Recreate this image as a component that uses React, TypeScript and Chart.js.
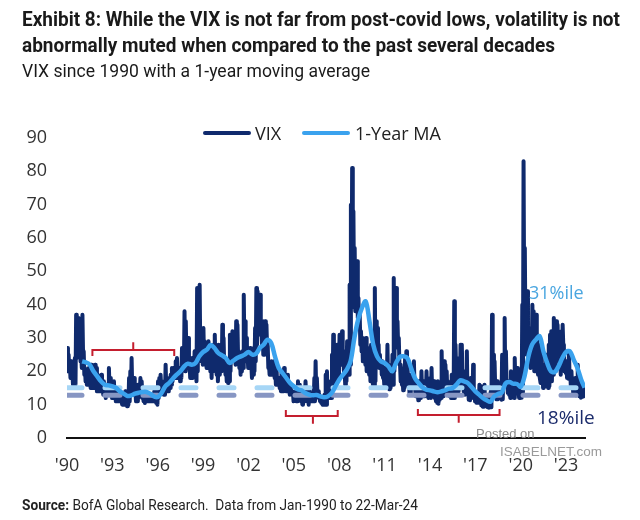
import React, { useEffect, useLayoutEffect, useRef } from "react";
import { Chart, registerables } from "chart.js";

Chart.register(...registerables);

// ---------- DATA ----------
const startYear = 1990;

// Monthly VIX highs (Jan-1990 .. Mar-2024), one row per year
const vixMonthlyHigh: number[] = [
  27, 25, 22, 23, 20, 19, 24, 37, 32, 36, 29, 25, // 1990
  37, 26, 21, 20, 19, 21, 19, 22, 19, 20, 22, 21, // 1991
  19, 17, 17, 19, 16, 17, 15, 16, 16, 21, 18, 15, // 1992
  15, 17, 14, 15, 14, 13, 13, 12, 13, 13, 14, 12, // 1993
  12, 18, 20, 24, 17, 18, 14, 13, 16, 16, 18, 17, // 1994
  13, 12, 13, 13, 13, 13, 13, 13, 13, 14, 12, 14, // 1995
  17, 18, 19, 16, 16, 17, 22, 18, 17, 18, 19, 21, // 1996
  21, 21, 23, 24, 21, 21, 21, 27, 25, 38, 35, 28, // 1997
  30, 23, 22, 24, 24, 26, 23, 45, 44, 46, 31, 29, // 1998
  33, 29, 28, 28, 29, 26, 24, 27, 28, 31, 23, 25, // 1999
  28, 25, 27, 34, 30, 24, 21, 20, 22, 31, 30, 32, // 2000
  29, 28, 35, 34, 26, 23, 25, 26, 43, 35, 30, 26, // 2001
  26, 27, 22, 24, 27, 33, 45, 44, 42, 43, 33, 33, // 2002
  35, 35, 34, 28, 22, 22, 23, 22, 23, 20, 21, 18, // 2003
  18, 16, 20, 17, 21, 16, 17, 19, 15, 16, 15, 14, // 2004
  14, 13, 14, 17, 16, 13, 12, 14, 13, 17, 13, 12, // 2005
  14, 13, 12, 12, 18, 23, 18, 14, 13, 12, 11, 12, // 2006
  13, 19, 20, 14, 14, 17, 25, 31, 27, 22, 28, 23, // 2007
  31, 28, 32, 26, 20, 24, 29, 24, 46, 70, 81, 68, // 2008
  57, 52, 53, 42, 37, 32, 30, 28, 28, 30, 27, 24, // 2009
  27, 28, 20, 22, 45, 35, 33, 28, 25, 23, 23, 19, // 2010
  21, 21, 28, 17, 19, 22, 25, 48, 43, 45, 35, 30, // 2011
  22, 19, 18, 21, 24, 26, 21, 18, 17, 19, 18, 23, // 2012
  14.5, 16, 14, 17, 14, 20, 15, 17, 16, 20, 13.5, 16, // 2013
  18, 21, 17, 17, 13, 12.5, 17, 16, 16, 26, 15, 23, // 2014
  22, 20, 17, 16, 15, 19, 19, 41, 28, 24, 20, 24, // 2015
  28, 28, 20, 16, 16, 26, 16, 13.5, 18, 17, 22, 14, // 2016
  13, 12.5, 13, 16, 15.6, 11.5, 11, 16, 12, 11, 13, 11, // 2017
  14, 37, 25, 23, 15.5, 17, 16, 15, 14, 25, 22, 36, // 2018
  26, 17, 17, 14, 20, 17, 14, 24, 18, 21, 13.5, 16, // 2019
  19, 40, 83, 57, 37, 44, 33, 27, 33, 40, 38, 26, // 2020
  37, 29, 28, 19, 28, 21, 22, 21, 25, 21, 28, 31, // 2021
  32, 31, 36, 33, 35, 34, 28, 26, 32, 34, 27, 23, // 2022
  23, 22, 26, 19.5, 20, 16, 15, 18, 17, 22, 16, 13.5, // 2023
  14.8, 16, 15, // 2024
];

// Monthly VIX lows (Jan-1990 .. Mar-2024)
const vixMonthlyLow: number[] = [
  20, 21, 18, 18, 16, 16, 16, 24, 26, 27, 23, 21, // 1990
  25, 19, 17, 16, 16, 17, 15, 15, 15, 15, 15, 14, // 1991
  14, 14, 14, 15, 13, 13, 12, 13, 13, 15, 13, 12, // 1992
  12, 12, 11, 12, 11, 11, 11, 10, 10, 10, 11, 9.5, // 1993
  10, 11, 13, 15, 13, 13, 11, 11, 12, 13, 13, 12, // 1994
  11, 10.5, 11, 11, 11, 11, 11, 11, 11, 11, 10.5, 10, // 1995
  12, 14, 15, 14, 13, 13, 15, 14, 14, 15, 16, 17, // 1996
  18, 18, 18, 19, 18, 17, 18, 21, 21, 20, 23, 22, // 1997
  21, 18, 18, 18, 19, 19, 17, 20, 30, 26, 23, 22, // 1998
  23, 22, 21, 21, 21, 20, 18, 20, 21, 22, 19, 17, // 1999
  19, 21, 20, 23, 21, 19, 17, 16.5, 17, 20, 24, 24, // 2000
  23, 22, 24, 24, 21, 19, 20, 21, 26, 28, 23, 21, // 2001
  21, 22, 18, 19, 20, 23, 28, 31, 33, 31, 27, 25, // 2002
  25, 30, 27, 21, 19, 19, 19, 19, 18, 16, 16, 16, // 2003
  15, 14, 15, 14, 15, 14, 14, 14, 13, 14, 13, 11, // 2004
  12, 11, 11, 12, 12, 11, 10, 11, 11, 12, 11, 10, // 2005
  11, 11, 11, 11, 11, 13, 13, 12, 11, 10.5, 10, 10, // 2006
  10, 10, 13, 12, 12, 12, 14, 20, 16, 16, 20, 18, // 2007
  22, 22, 23, 20, 16, 17, 21, 19, 22, 39, 48, 42, // 2008
  38, 38, 36, 33, 28, 26, 23, 23, 22, 20, 21, 19, // 2009
  17, 19, 16, 15.5, 17, 24, 23, 21, 21, 19, 18, 16, // 2010
  15.5, 16, 17, 14.6, 15, 16, 16, 20, 31, 28, 27, 22, // 2011
  17, 16, 14.3, 15, 16, 17, 15.5, 13.5, 13.5, 15, 15, 15, // 2012
  12.5, 12.5, 11.3, 12, 12, 13.5, 12.5, 12.5, 13, 13, 12, 12.5, // 2013
  12, 13, 13.5, 12, 11, 10.5, 10.3, 11.5, 12, 14, 12.5, 13, // 2014
  16, 13.5, 13, 12.5, 12, 12, 12, 12, 20, 14, 14, 15, // 2015
  18, 19, 14, 13, 13.5, 13.5, 11.5, 11.3, 12, 13, 12.5, 11, // 2016
  10.6, 10.6, 10.6, 10.8, 9.8, 9.4, 9.4, 10, 9.5, 9.2, 9.1, 9.2, // 2017
  9.2, 13, 15, 15, 11.6, 11.6, 11.9, 11.9, 11.5, 11.6, 16, 16, // 2018
  17, 13.5, 13, 12, 13, 14, 12, 16, 14, 13.5, 12, 12, // 2019
  12.1, 13.7, 40, 31, 25, 26, 24, 21, 24, 26, 20, 20, // 2020
  21, 19, 19, 16.5, 16.5, 15, 16, 15.5, 16, 15, 15.5, 17, // 2021
  17, 19, 20, 20, 25, 24, 23, 19, 23, 28, 20, 19.5, // 2022
  18, 17.8, 18.5, 15.7, 15.8, 12.9, 13, 12.8, 12.8, 16, 12.5, 12.1, // 2023
  12.4, 12.5, 12.8, // 2024
];

// 1-year moving average, read quarterly
const maYears: number[] = [
  1991.0, 1991.25, 1991.5, 1991.75, 1992.0, 1992.25, 1992.5, 1992.75,
  1993.0, 1993.25, 1993.5, 1993.75, 1994.0, 1994.25, 1994.5, 1994.75,
  1995.0, 1995.25, 1995.5, 1995.75, 1996.0, 1996.25, 1996.5, 1996.75,
  1997.0, 1997.25, 1997.5, 1997.75, 1998.0, 1998.25, 1998.5, 1998.75,
  1999.0, 1999.25, 1999.5, 1999.75, 2000.0, 2000.25, 2000.5, 2000.75,
  2001.0, 2001.25, 2001.5, 2001.75, 2002.0, 2002.25, 2002.5, 2002.75,
  2003.0, 2003.25, 2003.5, 2003.75, 2004.0, 2004.25, 2004.5, 2004.75,
  2005.0, 2005.25, 2005.5, 2005.75, 2006.0, 2006.25, 2006.5, 2006.75,
  2007.0, 2007.25, 2007.5, 2007.75, 2008.0, 2008.25, 2008.5, 2008.75,
  2009.0, 2009.25, 2009.5, 2009.75, 2010.0, 2010.25, 2010.5, 2010.75,
  2011.0, 2011.25, 2011.5, 2011.75, 2012.0, 2012.25, 2012.5, 2012.75,
  2013.0, 2013.25, 2013.5, 2013.75, 2014.0, 2014.25, 2014.5, 2014.75,
  2015.0, 2015.25, 2015.5, 2015.75, 2016.0, 2016.25, 2016.5, 2016.75,
  2017.0, 2017.25, 2017.5, 2017.75, 2018.0, 2018.25, 2018.5, 2018.75,
  2019.0, 2019.25, 2019.5, 2019.75, 2020.0, 2020.25, 2020.5, 2020.75,
  2021.0, 2021.25, 2021.5, 2021.75, 2022.0, 2022.25, 2022.5, 2022.75,
  2023.0, 2023.25, 2023.5, 2023.75, 2024.0, 2024.22,
];
const maValues: number[] = [
  23, 22.7, 22, 20, 18.5, 17, 16, 15.8,
  15.5, 15, 14, 13.3, 12.6, 12.8, 13.3, 13.6,
  13.8, 13.8, 13.3, 12.5, 12.3, 13.5, 15.5, 16.5,
  17.8, 19, 20, 21.5, 22.3, 22, 22.5, 24.5,
  25.8, 26.5, 27.9, 27, 25.5, 24.8, 24, 22.5,
  23.2, 24, 24.5, 25, 25.8, 25, 25.3, 27,
  28, 29.5, 28.5, 24.5, 21, 19.5, 18, 16.5,
  15.5, 14.6, 14.3, 13.5, 13, 12.8, 12.9, 12.5,
  12.2, 12.5, 13.5, 15.5, 17.5, 19, 20.5, 23,
  30, 35.5, 39, 41, 35, 28, 24.5, 23,
  22.5, 21.5, 20, 22.5, 24.3, 24.5, 24, 21,
  18, 16.5, 15.2, 14.5, 14.3, 14, 13.7, 14,
  14.3, 14.8, 15, 16, 17.3, 17, 16.5, 15.3,
  14, 13, 12, 11.3, 10.9, 12.5, 13.2, 13.7,
  16.4, 16.8, 16.3, 16.2, 15.4, 18.5, 24.3, 28,
  29.5, 30.5, 26, 22.5, 20, 19.8, 21.5, 24,
  25.8, 26, 23.5, 21, 17.5, 15.1,
];

const xTickYears: number[] = [1990, 1993, 1996, 1999, 2002, 2005, 2008, 2011, 2014, 2017, 2020, 2023];
const yTickValues: number[] = [0, 10, 20, 30, 40, 50, 60, 70, 80, 90];

const currentMaLevel = 15.1; // 31%ile
const currentVixLevel = 12.8; // 18%ile

// Low-volatility regime brackets
const bracketFrom: number[] = [1991.68, 2004.47, 2013.2];
const bracketTo: number[] = [1997.09, 2007.9, 2018.6];
const bracketMid: number[] = [1994.38, 2006.26, 2015.9];
const bracketLevel: number[] = [26.4, 6.6, 6.9];
const bracketArmsDown: boolean[] = [true, false, false];

// ---------- STYLE ----------
const NAVY = "#0f2a6d";
const MA_BLUE = "#3aa2ee";
const LIGHT_DASH = "#a6d6f6";
const DARK_DASH = "#8796c3";
const RED = "#c41e2e";
const AXIS_FONT = '"Open Sans", "DejaVu Sans", sans-serif';
const TITLE_FONT = 'Roboto, "Noto Sans", sans-serif';

const xMin = 1990;
const xMax = 2024.25;

const bracketPlugin = {
  id: "brackets",
  afterDatasetsDraw(chart: any) {
    const { ctx, scales } = chart;
    const xs = scales.x;
    const ys = scales.y;
    ctx.save();
    ctx.strokeStyle = RED;
    ctx.lineWidth = 2;
    for (let i = 0; i < bracketFrom.length; i++) {
      const x1 = xs.getPixelForValue(bracketFrom[i]);
      const x2 = xs.getPixelForValue(bracketTo[i]);
      const xm = xs.getPixelForValue(bracketMid[i]);
      const y = ys.getPixelForValue(bracketLevel[i]);
      const arm = bracketArmsDown[i] ? 6 : -6;
      ctx.beginPath();
      ctx.moveTo(x1, y + arm);
      ctx.lineTo(x1, y);
      ctx.lineTo(x2, y);
      ctx.lineTo(x2, y + arm);
      ctx.moveTo(xm, y);
      ctx.lineTo(xm, y - arm * 1.3);
      ctx.stroke();
    }
    ctx.restore();
  },
};

function FitLine(props: { left: number; top: number; width: number; style: React.CSSProperties; children: React.ReactNode }) {
  const r = useRef<HTMLDivElement | null>(null);
  useLayoutEffect(() => {
    const el = r.current;
    if (!el) return;
    el.style.transform = "none";
    const w = el.getBoundingClientRect().width;
    if (w > 0) el.style.transform = `scaleX(${props.width / w})`;
  });
  return (
    <div
      ref={r}
      style={{
        position: "absolute",
        left: props.left,
        top: props.top,
        whiteSpace: "nowrap",
        transformOrigin: "0 50%",
        ...props.style,
      }}
    >
      {props.children}
    </div>
  );
}

export default function App() {
  const ref = useRef<HTMLCanvasElement | null>(null);

  useEffect(() => {
    if (!ref.current) return;
    const vixPoints: { x: number; y: number }[] = [];
    for (let i = 0; i < vixMonthlyHigh.length; i++) {
      const t = startYear + i / 12;
      vixPoints.push({ x: t + 0.25 / 12, y: vixMonthlyHigh[i] });
      vixPoints.push({ x: t + 0.75 / 12, y: vixMonthlyLow[i] });
    }
    const maPoints = maYears.map((yr, i) => ({ x: yr, y: maValues[i] }));

    const chart = new Chart(ref.current, {
      type: "line",
      data: {
        datasets: [
          {
            label: "1-Year MA",
            data: maPoints,
            borderColor: MA_BLUE,
            borderWidth: 4.5,
            pointRadius: 0,
            tension: 0.35,
            order: 0,
          },
          {
            label: "31%ile",
            data: [{ x: xMin, y: currentMaLevel }, { x: xMax, y: currentMaLevel }],
            borderColor: LIGHT_DASH,
            borderWidth: 5,
            borderDash: [15, 23],
            borderCapStyle: "round",
            pointRadius: 0,
            order: 1,
          },
          {
            label: "18%ile",
            data: [{ x: xMin, y: currentVixLevel }, { x: xMax, y: currentVixLevel }],
            borderColor: DARK_DASH,
            borderWidth: 5,
            borderDash: [15, 23],
            borderCapStyle: "round",
            pointRadius: 0,
            order: 2,
          },
          {
            label: "VIX",
            data: vixPoints,
            borderColor: NAVY,
            borderWidth: 4,
            borderJoinStyle: "round",
            borderCapStyle: "round",
            pointRadius: 0,
            tension: 0,
            order: 3,
          },
        ],
      },
      options: {
        animation: false,
        responsive: false,
        maintainAspectRatio: false,
        events: [],
        layout: { padding: { top: 138, right: 55, bottom: 0, left: 0 } },
        plugins: {
          legend: { display: false },
          tooltip: { enabled: false },
        },
        scales: {
          x: {
            type: "linear",
            min: xMin,
            max: xMax,
            grid: { display: false, drawTicks: false },
            border: { display: true, color: "#111", width: 2 },
            afterFit: (s: any) => {
              s.height = 82;
            },
            afterBuildTicks: (s: any) => {
              s.ticks = xTickYears.map((v) => ({ value: v }));
            },
            ticks: {
              padding: 17,
              maxRotation: 0,
              autoSkip: false,
              color: "#333",
              font: { family: AXIS_FONT, size: 18 },
              callback: (v: any) => "'" + String(v).slice(2),
            },
          },
          y: {
            min: 0,
            max: 90,
            grid: { display: false, drawTicks: false },
            border: { display: false },
            afterFit: (s: any) => {
              s.width = 67;
            },
            afterBuildTicks: (s: any) => {
              s.ticks = yTickValues.map((v) => ({ value: v }));
            },
            ticks: {
              padding: 20,
              color: "#333",
              font: { family: AXIS_FONT, size: 18 },
            },
          },
        },
      },
      plugins: [bracketPlugin],
    });
    return () => chart.destroy();
  }, []);

  const abs = (o: React.CSSProperties): React.CSSProperties => ({ position: "absolute", whiteSpace: "nowrap", ...o });
  const titleStyle: React.CSSProperties = { fontFamily: TITLE_FONT, fontWeight: 700, fontSize: 20, lineHeight: "26px", color: "#1a1a1a" };

  return (
    <div style={{ position: "fixed", left: 0, top: 0, width: 640, height: 520, background: "#fff", overflow: "hidden" }}>
      <canvas ref={ref} width={640} height={520} style={{ position: "absolute", left: 0, top: 0, width: 640, height: 520 }} />
      <FitLine left={22} top={6} width={598} style={titleStyle}>
        Exhibit 8: While the VIX is not far from post-covid lows, volatility is not
      </FitLine>
      <FitLine left={22} top={32} width={533} style={titleStyle}>
        abnormally muted when compared to the past several decades
      </FitLine>
      <FitLine left={22} top={58} width={348} style={{ fontFamily: TITLE_FONT, fontSize: 19, lineHeight: "26px", color: "#1a1a1a" }}>
        VIX since 1990 with a 1-year moving average
      </FitLine>
      {/* legend */}
      <div style={abs({ left: 203, top: 131, width: 48, height: 4, borderRadius: 2, background: NAVY })} />
      <div style={abs({ left: 255, top: 120, fontFamily: AXIS_FONT, fontSize: 18, lineHeight: "26px", color: "#222" })}>VIX</div>
      <div style={abs({ left: 302, top: 131, width: 48, height: 4, borderRadius: 2, background: MA_BLUE })} />
      <div style={abs({ left: 355, top: 120, fontFamily: AXIS_FONT, fontSize: 18, lineHeight: "26px", color: "#222" })}>1-Year MA</div>
      {/* percentile labels */}
      <div style={abs({ left: 529, top: 279, fontFamily: AXIS_FONT, fontSize: 18, lineHeight: "26px", color: "#4aa6e0" })}>31%ile</div>
      <div style={abs({ left: 537, top: 404, fontFamily: AXIS_FONT, fontSize: 19, lineHeight: "26px", color: "#1b2b6b" })}>18%ile</div>
      {/* watermark */}
      <div style={abs({ left: 476, top: 426, fontFamily: '"Liberation Sans", Arial, sans-serif', fontSize: 13, lineHeight: "16px", color: "#8a8a8a" })}>Posted on</div>
      <div style={abs({ left: 500, top: 444, fontFamily: '"Liberation Sans", Arial, sans-serif', fontSize: 13.5, lineHeight: "16px", color: "#9a9a9a" })}>ISABELNET.com</div>
      {/* source */}
      <FitLine left={22} top={496} width={396} style={{ fontFamily: TITLE_FONT, fontSize: 14, lineHeight: "18px", color: "#222" }}>
        <b>Source:</b> BofA Global Research.&nbsp; Data from Jan-1990 to 22-Mar-24
      </FitLine>
    </div>
  );
}
